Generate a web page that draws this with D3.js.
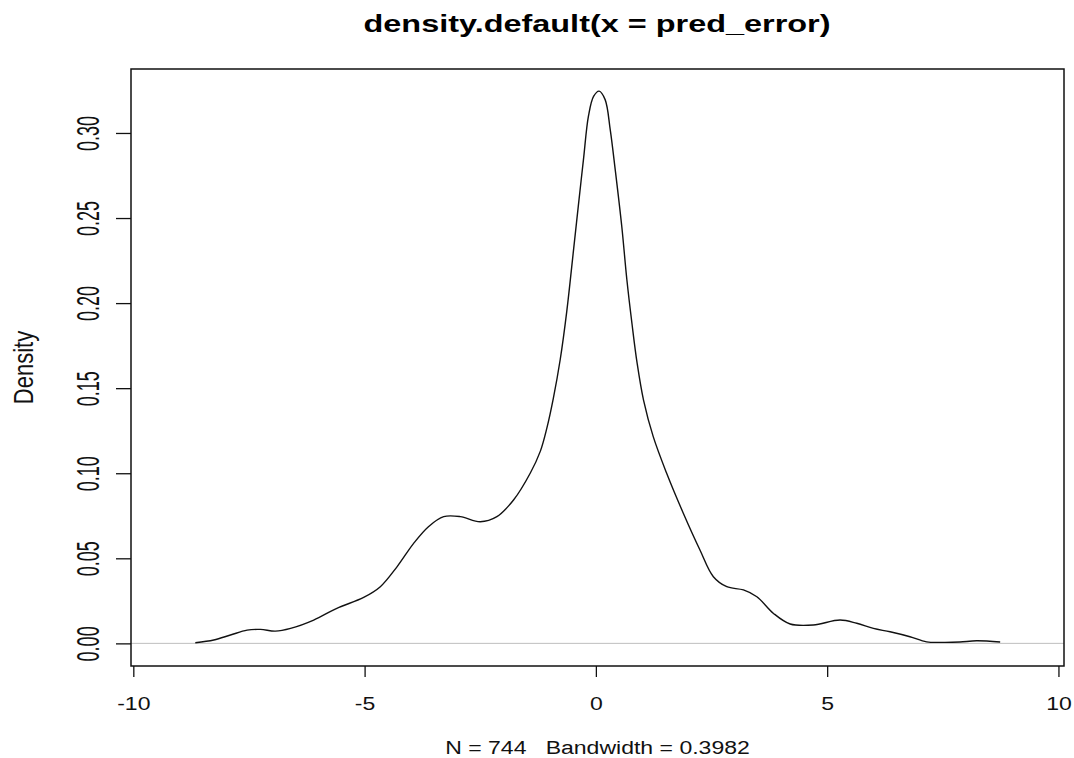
<!DOCTYPE html>
<html>
<head>
<meta charset="utf-8">
<script src="https://cdn.jsdelivr.net/npm/d3@7"></script>
<style>
  body { margin: 0; background: #fff; }
  svg { display: block; }
</style>
</head>
<body>
<svg id="chart" width="1074" height="758"></svg>
<script>
// density estimate
let errX = [-8.66, -8.26, -7.90, -7.54, -7.25, -6.93, -6.60, -6.10, -5.60, -5.02,
    -4.66, -4.30, -3.94, -3.62, -3.29, -2.93, -2.50, -2.14, -1.78, -1.42,
    -1.20, -1.06, -0.92, -0.77, -0.63, -0.48, -0.38, -0.27, -0.16, -0.05,
    0.07, 0.20, 0.31, 0.42, 0.56, 0.67, 0.78, 0.89, 1.03, 1.24,
    1.53, 1.89, 2.25, 2.54, 2.83, 3.19, 3.48, 3.84, 4.20, 4.70,
    5.28, 5.64, 6.00, 6.36, 6.79, 7.15, 7.51, 7.87, 8.23, 8.74];
let density = [0.0004, 0.0020, 0.0049, 0.0078, 0.0082, 0.0072, 0.0088, 0.0137, 0.0206, 0.0270,
    0.0333, 0.0450, 0.0588, 0.0686, 0.0745, 0.0745, 0.0715, 0.0745, 0.0843, 0.1000,
    0.1130, 0.1265, 0.1440, 0.1670, 0.1950, 0.2320, 0.2570, 0.2840, 0.3100, 0.3215,
    0.3246, 0.3196, 0.3020, 0.2780, 0.2450, 0.2137, 0.1880, 0.1650, 0.1430, 0.1215,
    0.1000, 0.0765, 0.0549, 0.0392, 0.0333, 0.0314, 0.0274, 0.0176, 0.0114, 0.0108,
    0.0137, 0.0118, 0.0088, 0.0068, 0.0039, 0.0009, 0.0006, 0.0008, 0.0015, 0.0008];

let xTicks = [-10, -5, 0, 5, 10];
let yTicks = [0.00, 0.05, 0.10, 0.15, 0.20, 0.25, 0.30];

let titleText = "density.default(x = pred_error)";
let subText = "N = 744   Bandwidth = 0.3982";
let yLabel = "Density";

let plotLeft = 131, plotRight = 1064, plotTop = 69, plotBottom = 666;
let font = "Liberation Sans, Arial, sans-serif";

let svg = d3.select("#chart");

let x = d3.scaleLinear()
    .domain([-10.05, 10.12])
    .range([plotLeft, plotRight]);

let y = d3.scaleLinear()
    .domain([-0.0133, 0.3376])
    .range([plotBottom, plotTop]);

// zero line
svg.append("line")
    .attr("x1", plotLeft)
    .attr("x2", plotRight)
    .attr("y1", y(0))
    .attr("y2", y(0))
    .style("stroke", "#bebebe")
    .style("stroke-width", 1);

// density curve
let pts = errX.map(function(v, i) { return {x: v, d: density[i]}; });
svg.append("path")
    .datum(pts)
    .attr("fill", "none")
    .attr("stroke", "#111")
    .attr("stroke-width", 1.4)
    .attr("d", d3.line()
        .x(function(d) { return x(d.x) })
        .y(function(d) { return y(d.d) })
        .curve(d3.curveCatmullRom.alpha(0.5))
    );

// plot box
svg.append("rect")
    .attr("x", plotLeft)
    .attr("y", plotTop)
    .attr("width", plotRight - plotLeft)
    .attr("height", plotBottom - plotTop)
    .attr("fill", "none")
    .attr("stroke", "#111")
    .attr("stroke-width", 1.5);

// axes (plain hyphen for negatives, like R)
let xAxis = svg.append("g")
    .attr("transform", "translate(0," + plotBottom + ")")
    .call(d3.axisBottom(x).tickValues(xTicks).tickSize(11).tickFormat(function(d) { return String(d); }));
xAxis.select(".domain").remove();
xAxis.selectAll("line").style("stroke", "#111").style("stroke-width", 1.3);
xAxis.selectAll("text")
    .attr("y", 0)
    .attr("dy", null)
    .attr("transform", "translate(0,43.5) scale(1.28,1)")
    .style("font-family", font)
    .style("font-size", "18px")
    .style("fill", "#111");

let yAxis = svg.append("g")
    .attr("transform", "translate(" + plotLeft + ",0)")
    .call(d3.axisLeft(y).tickValues(yTicks).tickSize(15).tickFormat(d3.format(".2f")));
yAxis.select(".domain").remove();
yAxis.selectAll("line").style("stroke", "#111").style("stroke-width", 1.3);
yAxis.selectAll("text")
    .attr("x", 0)
    .attr("dy", null)
    .attr("text-anchor", "middle")
    .attr("transform", "translate(-32.3,0) rotate(-90) scale(1,1.71)")
    .style("font-family", font)
    .style("font-size", "18px")
    .style("fill", "#111");

// title and labels
svg.append("text")
    .attr("transform", "translate(597,31.5) scale(1.41,1)")
    .attr("text-anchor", "middle")
    .style("font-family", font)
    .style("font-weight", "bold")
    .style("font-size", "23px")
    .style("fill", "#000")
    .text(titleText);

svg.append("text")
    .attr("transform", "translate(597.5,754) scale(1.28,1)")
    .attr("text-anchor", "middle")
    .style("font-family", font)
    .style("font-size", "18px")
    .style("white-space", "pre")
    .style("fill", "#111")
    .text(subText);

svg.append("text")
    .attr("transform", "translate(33," + ((plotTop + plotBottom) / 2) + ") rotate(-90) scale(1,1.28)")
    .attr("text-anchor", "middle")
    .style("font-family", font)
    .style("font-size", "22px")
    .style("fill", "#111")
    .text(yLabel);
</script>
</body>
</html>
